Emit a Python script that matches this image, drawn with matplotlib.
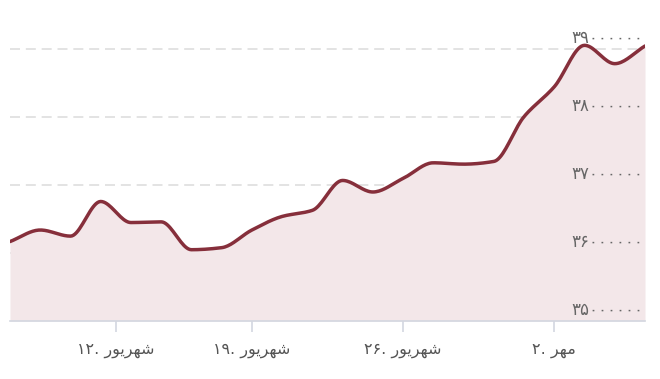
import numpy as np
import matplotlib
matplotlib.use("Agg")
import matplotlib.pyplot as plt

# Values in millions
values = [36.17, 36.34, 36.25, 36.76, 36.45, 36.46, 36.05, 36.08, 36.34, 36.54,
          36.63, 37.07, 36.90, 37.10, 37.33, 37.31, 37.35, 38.01, 38.45, 39.06,
          38.79, 39.05]
tick_pos = [3.5, 8, 13, 18]
# visual-order shaped Persian labels
shahrivar = "\uFEAD\uFEEE\uFEF3\uFEAE\uFEEC\uFEB7"
mehr = "\uFEAE\uFEEC\uFEE3"
tick_labels = ["\u06F1\u06F2. " + shahrivar, "\u06F1\u06F9. " + shahrivar,
               "\u06F2\u06F6. " + shahrivar, "\u06F2. " + mehr]
y_ticks = [35, 36, 37, 38, 39]

def fa_digits(s):
    return "".join(chr(0x06F0 + int(c)) if c.isdigit() else c for c in s)

def monotone(x, y, n=20):
    x = np.asarray(x, float); y = np.asarray(y, float)
    h = np.diff(x); d = np.diff(y) / h
    m = np.zeros_like(y)
    m[0] = d[0]; m[-1] = d[-1]
    for i in range(1, len(y) - 1):
        if d[i - 1] * d[i] <= 0:
            m[i] = 0
        else:
            w1 = 2 * h[i] + h[i - 1]; w2 = h[i] + 2 * h[i - 1]
            m[i] = (w1 + w2) / (w1 / d[i - 1] + w2 / d[i])
    xs, ys = [], []
    for i in range(len(h)):
        t = np.linspace(0, 1, n, endpoint=(i == len(h) - 1))
        h00 = 2*t**3 - 3*t**2 + 1; h10 = t**3 - 2*t**2 + t
        h01 = -2*t**3 + 3*t**2; h11 = t**3 - t**2
        xs.append(x[i] + t * h[i])
        ys.append(h00*y[i] + h10*h[i]*m[i] + h01*y[i+1] + h11*h[i]*m[i+1])
    return np.concatenate(xs), np.concatenate(ys)

x = np.arange(len(values))
xs, ys = monotone(x, values)

W, H = 660, 379
fig = plt.figure(figsize=(W/100, H/100), dpi=100)
left, right, bottom, top = 10, 645, 321, 20
ax = fig.add_axes([left/W, (H-bottom)/H, (right-left)/W, (bottom-top)/H])
ppm = 67.9
ax.set_xlim(0, len(values) - 1)
ax.set_ylim(35, 35 + (bottom - top) / ppm)

ax.fill_between(xs, 35, ys, color="#f3e7e9", lw=0, zorder=1)
for v in y_ticks[1:]:
    ax.axhline(v, color="#dedede", lw=1.2, dashes=(6, 3.5), zorder=0.5)
ax.plot(xs, ys, color="#862f3b", lw=2.5, zorder=3, solid_capstyle="round")

for s in ["left", "right", "top"]:
    ax.spines[s].set_visible(False)
ax.spines["bottom"].set_color("#d3d7e0")
ax.spines["bottom"].set_linewidth(1.2)
ax.set_yticks([])
ax.set_xticks(tick_pos)
ax.set_xticklabels(tick_labels, family=["DejaVu Sans"], fontsize=11.5, color="#555555")
ax.tick_params(axis="x", length=8, width=1.2, color="#d3d7e0", pad=8)

for v in y_ticks:
    ax.text(0.997, v + 0.03, fa_digits(str(int(v * 1000000))), transform=ax.get_yaxis_transform(),
            ha="right", va="bottom", fontsize=12, color="#666666",
            family=["DejaVu Sans"], zorder=4)

fig.savefig("out.png", dpi=100)
